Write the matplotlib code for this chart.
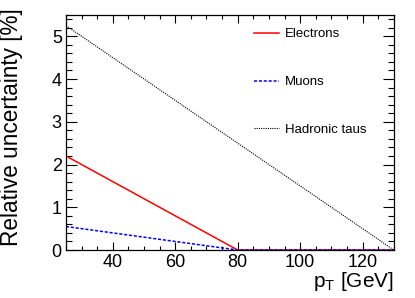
import numpy as np
import matplotlib
matplotlib.use("Agg")
import matplotlib.pyplot as plt
from matplotlib.ticker import MultipleLocator

plt.rcParams["font.family"] = ["Liberation Sans", "DejaVu Sans"]
plt.rcParams["mathtext.fontset"] = "custom"
plt.rcParams["mathtext.rm"] = "Liberation Sans"

# values
pt_lep     = [25, 80, 130]
electrons  = [2.2, 0.0, 0.0]
muons      = [0.55, 0.0, 0.0]
pt_tau     = [25, 130]
taus       = [5.25, 0.0]

fig = plt.figure(figsize=(4.15, 2.98), dpi=100)
ax = fig.add_axes([0.159, 0.161, 0.790, 0.789])

ax.plot(pt_lep, electrons, color="#ff0000", lw=1.1, label="Electrons")
ax.plot(pt_lep, muons, color="#0000ff", lw=1.1, ls=(0, (2, 1.2)), label="Muons")
ax.plot(pt_tau, taus, color="black", lw=0.8, ls=(0, (1, 1)), label="Hadronic taus")

ax.set_xlim(25, 130)
ax.set_ylim(0, 5.5)
ax.xaxis.set_major_locator(MultipleLocator(20))
ax.xaxis.set_minor_locator(MultipleLocator(5))
ax.yaxis.set_major_locator(MultipleLocator(1))
ax.yaxis.set_minor_locator(MultipleLocator(0.2))

ax.tick_params(which="both", direction="in", top=True, right=True, width=0.8,
               labelsize=13, pad=3)
ax.tick_params(axis="x", which="major", length=6)
ax.tick_params(axis="x", which="minor", length=3)
ax.tick_params(axis="y", which="major", length=8)
ax.tick_params(axis="y", which="minor", length=4)
for s in ax.spines.values():
    s.set_linewidth(0.9)

ax.set_ylabel("Relative uncertainty [%]", fontsize=16.3)
ax.yaxis.set_label_coords(-0.131, 0.523)
ax.set_xlabel("p$_\\mathrm{T}$ [GeV]", fontsize=15, loc="right", labelpad=-1)

leg = ax.legend(loc="upper left", bbox_to_anchor=(0.573, 0.944), frameon=False,
                fontsize=9.5, handlelength=1.9, handletextpad=0.45,
                labelspacing=2.7, borderaxespad=0, borderpad=0)

fig.savefig("out.png", dpi=100)
